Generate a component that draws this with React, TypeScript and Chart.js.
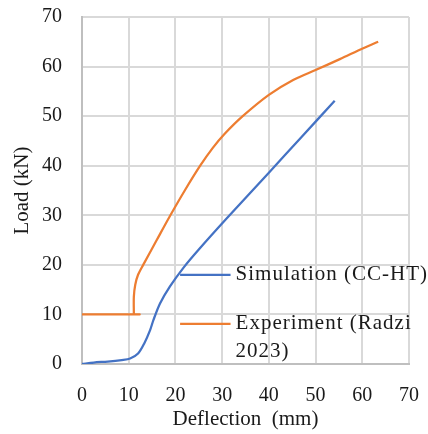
import React, { useEffect, useRef } from "react";
import { Chart, registerables } from "chart.js";

Chart.register(...registerables);

const FONT = "'Liberation Serif', 'Times New Roman', serif";

// Simulation (CC-HT)
const simDeflection = [0, 2.5, 5.5, 8.5, 10.3, 12, 13.3, 14.6, 15.3, 16.7, 18.8, 21.7, 25, 31, 40, 47, 54.1];
const simLoad = [0, 0.3, 0.5, 0.8, 1.1, 2.1, 4.1, 6.9, 8.9, 12.2, 15.6, 19.4, 23.1, 29.4, 38.6, 45.8, 53.1];

// Experiment (Radzi 2023)
const expDeflection = [0, 12.3, 11.1, 11.1, 11.1, 11.4, 12, 13.1, 16, 18.8, 22, 25.3, 28, 30.5, 34.4, 40, 45.2, 50, 55.2, 60.2, 63.4];
const expLoad = [10, 10, 10, 10, 13.6, 16, 18, 20, 25, 29.8, 35, 40, 43.6, 46.4, 50, 54.3, 57.3, 59.3, 61.5, 63.7, 65];

const seriesNames = ["Simulation (CC-HT)", "Experiment (Radzi 2023)"];
const legendLines = [["Simulation (CC-HT)"], ["Experiment (Radzi", "2023)"]];
const seriesColors = ["#4472C4", "#ED7D31"];

const xTitle = "Deflection  (mm)";
const yTitle = "Load (kN)";

const toPoints = (xs: number[], ys: number[]) => xs.map((x, i) => ({ x, y: ys[i] }));

const legendPlugin = {
  id: "customLegend",
  afterDatasetsDraw(chart: any) {
    const ctx = chart.ctx;
    const xs = chart.scales.x;
    const ys = chart.scales.y;
    const lineX0 = xs.getPixelForValue(21.0);
    const lineX1 = xs.getPixelForValue(31.8);
    const textX = lineX1 + 5;
    const rowsY = [ys.getPixelForValue(18.0), ys.getPixelForValue(8.1)];
    ctx.save();
    ctx.font = `21px ${FONT}`;
    (ctx as any).letterSpacing = "1px";
    ctx.textBaseline = "middle";
    ctx.textAlign = "left";
    ctx.fillStyle = "#1a1a1a";
    legendLines.forEach((lines, i) => {
      const y = rowsY[i];
      ctx.strokeStyle = seriesColors[i];
      ctx.lineWidth = 2.25;
      ctx.beginPath();
      ctx.moveTo(lineX0, y);
      ctx.lineTo(lineX1, y);
      ctx.stroke();
      lines.forEach((t, j) => {
        ctx.fillText(t, textX, y + j * 28);
      });
    });
    ctx.restore();
  },
};

export default function App() {
  const ref = useRef<HTMLCanvasElement | null>(null);
  useEffect(() => {
    if (!ref.current) return;
    const chart = new Chart(ref.current, {
      type: "scatter",
      data: {
        datasets: [
          {
            label: seriesNames[0],
            data: toPoints(simDeflection, simLoad),
            showLine: true,
            borderColor: seriesColors[0],
            backgroundColor: seriesColors[0],
            borderWidth: 2.25,
            pointRadius: 0,
            tension: 0.3,
          },
          {
            label: seriesNames[1],
            data: toPoints(expDeflection, expLoad),
            showLine: true,
            borderColor: seriesColors[1],
            backgroundColor: seriesColors[1],
            borderWidth: 2.25,
            pointRadius: 0,
            tension: 0.3,
          },
        ],
      },
      options: {
        animation: false,
        responsive: false,
        layout: { padding: { top: 17, right: 19, left: 0, bottom: 0 } },
        plugins: { legend: { display: false }, tooltip: { enabled: false } },
        scales: {
          x: {
            type: "linear",
            min: 0,
            max: 70,
            afterFit: (s: any) => { s.height = 70; },
            ticks: { stepSize: 10, font: { family: FONT, size: 20 }, color: "#1a1a1a", padding: 2 },
            grid: { color: "#d9d9d9", lineWidth: 2, drawTicks: true, tickLength: 18, tickColor: "rgba(0,0,0,0)" },
            border: { color: "#bfbfbf", width: 2 },
            title: { display: true, text: xTitle, font: { family: FONT, size: 21 }, color: "#1a1a1a", padding: { top: 0, bottom: 2 } },
          },
          y: {
            min: 0,
            max: 70,
            afterFit: (s: any) => { s.width = 82; },
            ticks: { stepSize: 10, font: { family: FONT, size: 20 }, color: "#1a1a1a", padding: 2 },
            grid: { color: "#d9d9d9", lineWidth: 2, drawTicks: true, tickLength: 18, tickColor: "rgba(0,0,0,0)" },
            border: { color: "#bfbfbf", width: 2 },
            title: { display: true, text: yTitle, font: { family: FONT, size: 21 }, color: "#1a1a1a", padding: { top: 10, bottom: 0 } },
          },
        },
      },
      plugins: [legendPlugin],
    });
    return () => chart.destroy();
  }, []);
  return (
    <div style={{ position: "absolute", left: 0, top: 0, width: 428, height: 434, background: "#fff" }}>
      <canvas ref={ref} width={428} height={434} style={{ display: "block" }} />
    </div>
  );
}
